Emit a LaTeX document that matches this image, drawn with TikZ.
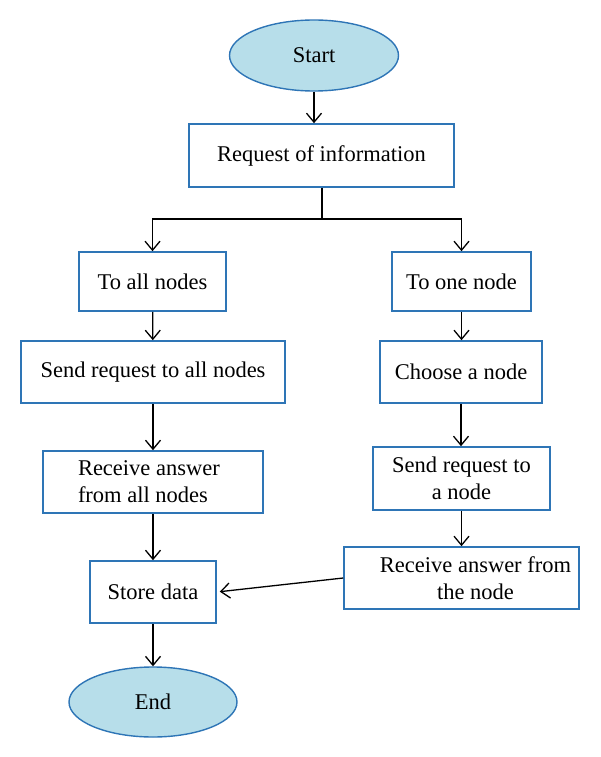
\documentclass[tikz,border=0pt]{standalone}
\usepackage{fontspec}
\setmainfont{Liberation Serif}
\usepackage{tikz}
\usetikzlibrary{arrows.meta,shapes.geometric}
\definecolor{lineblue}{RGB}{46,117,182}
\definecolor{fillblue}{RGB}{183,222,234}

\begin{document}
\begin{tikzpicture}[x=1pt,y=-1pt,
  font=\fontsize{22.5}{27}\selectfont,
  box/.style={draw=lineblue,line width=1.6pt,rectangle,inner sep=0pt,align=center},
  term/.style={draw=lineblue,line width=1.4pt,fill=fillblue,ellipse,inner sep=0pt},
  arr/.style={-{Straight Barb[length=9pt,width=15pt]},line width=1.3pt}]

\useasboundingbox (0,0) rectangle (600,757);

\node[term,minimum width=169pt,minimum height=71pt] (s0) at (314,55.5) {Start};
\node[box,minimum width=265pt,minimum height=63pt] (r0) at (321.5,155.5) {Request of information};

\node[box,minimum width=147pt,minimum height=59pt] (a1) at (152.5,281.5) {To all nodes};
\node[box,minimum width=264pt,minimum height=62pt] (a2) at (153,372) {Send request to all nodes};
\node[box,minimum width=220pt,minimum height=62pt,text width=150pt,align=flush left] (a3) at (153,482) {Receive answer\\from all nodes};
\node[box,minimum width=126pt,minimum height=62pt] (a4) at (153,592) {Store data};

\node[box,minimum width=139pt,minimum height=59pt] (b1) at (461.5,281.5) {To one node};
\node[box,minimum width=162pt,minimum height=62pt] (b2) at (461,372) {Choose a node};
\node[box,minimum width=177pt,minimum height=63pt] (b3) at (461.5,478.5) {Send request to\\a node};
\node[box,minimum width=235pt,minimum height=62pt] (b4) at (461.5,578) {\hspace*{28pt}Receive answer from\\\hspace*{28pt}the node};

\node[term,minimum width=168pt,minimum height=70pt] (e0) at (153,702) {End};

\coordinate (sp) at (322,219);

\draw[arr] (s0) -- (s0 |- r0.north);
\draw[line width=1.3pt] (r0.south -| sp) -- (sp);
\draw[arr] (sp) -| (a1.north);
\draw[arr] (sp) -| (b1.north);

\path[arr] (a1) edge (a2) (a2) edge (a3) (a3) edge (a4) (a4) edge (e0);
\path[arr] (b1) edge (b1 |- b2.north) (b2) edge (b2 |- b3.north) (b3) edge (b3 |- b4.north);

\draw[arr,shorten >=3pt] (b4.west) -- (a4.east);

\end{tikzpicture}
\end{document}
